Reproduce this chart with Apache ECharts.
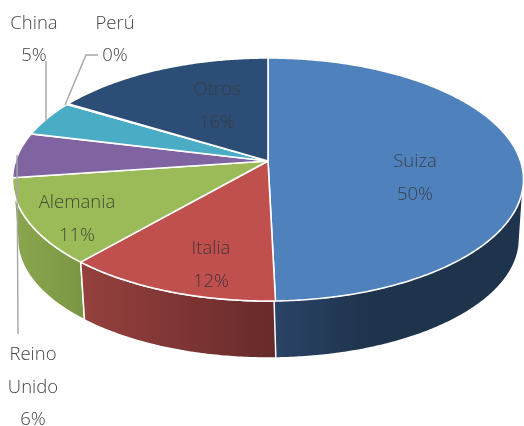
<!DOCTYPE html>
<html>
<head>
<meta charset="utf-8">
<style>html,body{margin:0;padding:0;background:#fff}#c{width:524px;height:426px}</style>
<script src="https://cdn.jsdelivr.net/npm/echarts@6/dist/echarts.min.js"></script>
</head>
<body>
<div id="c"></div>
<script>
const categories = ['Suiza','Italia','Alemania','Reino Unido','China','Perú','Otros'];
const shares = [49.6,11.8,11.4,6.0,4.8,0.1,16.3];
const topColors = ['#4f81bd','#c0504d','#9bbb59','#8064a2','#4bacc6','#f79646','#2c4d75'];
const sideLeft  = ['#2b4569','#96413e','#8aa74f','#5f4a7a','#38809a','#b87030','#203a58'];
const sideRight = ['#1e334c','#672a2a','#7b9643','#5f4a7a','#38809a','#b87030','#203a58'];
const labelColors = ['#3a404c','#453434','#424a32','#454545','#454545','#454545','#383d46'];
const labelAnchors = [[415,178],[211,265],[77,219],[33,387.5],[34,39.5],[115,39.5],[217,106]];
const leaders = [[[18,334],[17,155]],[[46,61],[46,121]],[[98,55],[86,55],[65,105]]];

// perspective disc: top rim and bottom rim
const P = -37/243;
const rimTop = {cx:268, c:252.5, a:94.2, b:161};
const rimBot = {cx:268.5, c:248, a:82.6, b:220.9};
function project(r, th){
  const u = Math.sin(th), v = -Math.cos(th), w = 1 + P*v;
  return [r.cx + r.c*u/w, (r.a*v + r.b)/w];
}
function arc(r, t0, t1){
  const n = Math.max(2, Math.ceil((t1-t0)/0.01)), pts = [];
  for(let i=0;i<=n;i++) pts.push(project(r, t0 + (t1-t0)*i/n));
  return pts;
}
function hull(points){
  const p = points.slice().sort((a,b)=>a[0]-b[0]||a[1]-b[1]);
  const cross = (o,a,b)=>(a[0]-o[0])*(b[1]-o[1])-(a[1]-o[1])*(b[0]-o[0]);
  const half = list=>{
    const h=[];
    for(const q of list){
      while(h.length>=2 && cross(h[h.length-2],h[h.length-1],q)<=0) h.pop();
      h.push(q);
    }
    h.pop();
    return h;
  };
  return half(p).concat(half(p.slice().reverse()));
}
const total = shares.reduce((s,v)=>s+v,0);
let run = 0;
const rows = shares.map(v=>{const row=[v,run]; run+=v; return row;});
function span(api){
  const a0 = api.value(1)/total*2*Math.PI;
  return [a0, a0 + api.value(0)/total*2*Math.PI];
}

const chart = echarts.init(document.getElementById('c'), null, {renderer:'canvas'});
chart.setOption({
  animation:false,
  backgroundColor:'#fff',
  series:[
    {
      type:'custom', coordinateSystem:'none', silent:true, z:1, data:rows,
      renderItem(params, api){
        const i = params.dataIndex, [t0,t1] = span(api);
        const topArc = arc(rimTop,t0,t1), botArc = arc(rimBot,t0,t1);
        // the large slice turns the right-hand silhouette, so its wall closes along the tangent
        const pts = i===0 ? hull(topArc.concat(botArc)) : topArc.concat(botArc.reverse());
        return {type:'polygon', z2:-i, shape:{points:pts},
          style:{
            fill:{type:'linear',x:0,y:0,x2:i===0?0.4:1,y2:0,colorStops:[
              {offset:0,color:sideLeft[i]},
              {offset:1,color:sideRight[i]}]},
            stroke:'#fff', lineWidth:1.5, lineJoin:'round'}};
      }
    },
    {
      type:'custom', coordinateSystem:'none', silent:true, z:2, data:rows,
      renderItem(params, api){
        const i = params.dataIndex, [t0,t1] = span(api);
        const pts = [[rimTop.cx,rimTop.b]].concat(arc(rimTop,t0,t1));
        return {type:'polygon', shape:{points:pts},
          style:{fill:topColors[i], stroke:'#fff', lineWidth:1.6, lineJoin:'round'}};
      }
    },
    {
      type:'custom', coordinateSystem:'none', silent:true, z:3, data:leaders.map((_,i)=>[i]),
      renderItem(params){
        return {type:'polyline', shape:{points:leaders[params.dataIndex]},
          style:{fill:null, stroke:'#a6a6a6', lineWidth:1.4}};
      }
    },
    {
      type:'custom', coordinateSystem:'none', silent:true, z:4, data:rows,
      renderItem(params, api){
        const i = params.dataIndex;
        const name = categories[i].replace(' ','\n');
        const [x,y] = labelAnchors[i];
        return {type:'text', x, y,
          style:{text:name+'\n'+Math.round(api.value(0))+'%', align:'center', verticalAlign:'middle',
            fontFamily:'"Open Sans"', fontWeight:300, fontSize:18.5, lineHeight:32.5, fill:labelColors[i]}};
      }
    }
  ]
});
</script>
</body>
</html>
